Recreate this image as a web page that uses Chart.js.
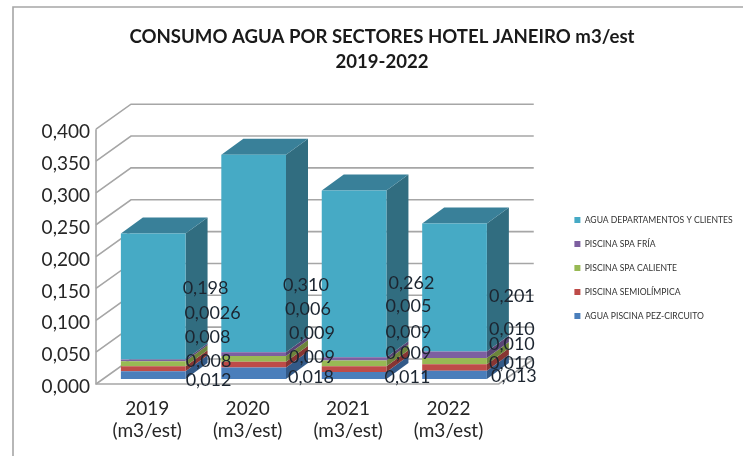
<!DOCTYPE html>
<html><head><meta charset="utf-8">
<style>html,body{margin:0;padding:0;background:#fff}#w{width:743px;height:456px}</style>
<script src="https://cdn.jsdelivr.net/npm/chart.js@4"></script></head>
<body><div id="w"><canvas id="c" width="743" height="456"></canvas></div>
<script>
const categories = ["2019 (m3/est)", "2020 (m3/est)", "2021 (m3/est)", "2022 (m3/est)"];
const seriesNames = ["AGUA PISCINA PEZ-CIRCUITO", "PISCINA SEMIOLÍMPICA", "PISCINA SPA CALIENTE", "PISCINA SPA FRÍA", "AGUA DEPARTAMENTOS Y CLIENTES"];
const piscinaPez = [0.012, 0.018, 0.011, 0.013];
const semiolimpica = [0.008, 0.009, 0.009, 0.010];
const spaCaliente = [0.008, 0.009, 0.009, 0.010];
const spaFria = [0.0026, 0.006, 0.005, 0.010];
const departamentos = [0.198, 0.310, 0.262, 0.201];
const labelTexts = [
  ["0,012", "0,018", "0,011", "0,013"],
  ["0,008", "0,009", "0,009", "0,010"],
  ["0,008", "0,009", "0,009", "0,010"],
  ["0,0026", "0,006", "0,005", "0,010"],
  ["0,198", "0,310", "0,262", "0,201"]
];
const yTicks = ["0,000", "0,050", "0,100", "0,150", "0,200", "0,250", "0,300", "0,350", "0,400"];

const front = ["#4a7ebb", "#be4b48", "#98b954", "#7d5fa0", "#46aac5"];
const side = ["#335a88", "#873533", "#6d853c", "#5a4474", "#316d80"];
const topC = "#398099";
const depth = {x: 22, y: -16};
const wall = {x: 35, y: -25, gx: 96, drop: 5};
// label nudges from each bar's right edge (dx) and its zero line (dy), series then category
const nudgeX = [[23,25,21,27],[23,26,22,25],[22,26,22,25],[27,22,22,25],[20,20,25,25]];
const nudgeY = [[1,-2,-2,-3],[-18,-22,-26,-16],[-42,-46,-47,-35],[-66,-70,-73,-50],[-91,-94,-96,-83]];

const scene = {
  id: "scene",
  afterLayout(ch) {
    const l = ch.legend, dx = 559 - l.left, dy = 268 - (l.top + l.bottom) / 2;
    l.left += dx; l.right = ch.width; l.width = l.right - l.left; l.top += dy; l.bottom += dy;
    const t = ch.titleBlock, tx = 382 - (t.left + t.right) / 2;
    t.left += tx; t.right += tx;
  },
  beforeDraw(ch) {
    const c = ch.ctx;
    c.save();
    c.strokeStyle = "#a6a6a6"; c.lineWidth = 1.6;
    c.beginPath(); c.moveTo(13, ch.height); c.lineTo(13, 7); c.lineTo(ch.width, 7); c.stroke();
    c.restore();
  },
  beforeDatasetsDraw(ch) {
    const c = ch.ctx, y = ch.scales.y, ar = ch.chartArea;
    const x0 = wall.gx, x1 = ar.right - 6;
    c.save();
    c.strokeStyle = "#a6a6a6"; c.lineWidth = 1.6;
    for (let i = 0; i < yTicks.length; i++) {
      const p = y.getPixelForValue(i * 0.05) + wall.drop;
      c.beginPath();
      c.moveTo(x0, p); c.lineTo(x0 + wall.x, p + wall.y);
      c.lineTo(x1 + wall.x, p + wall.y);
      c.stroke();
    }
    const pb = y.getPixelForValue(0) + wall.drop, pt = y.getPixelForValue(0.4) + wall.drop;
    c.beginPath(); c.moveTo(x0, pt); c.lineTo(x0, pb); c.lineTo(x1, pb); c.lineTo(x1 + wall.x, pb + wall.y); c.stroke();
    // bar depth faces
    ch.data.datasets.forEach((ds, si) => {
      ch.getDatasetMeta(si).data.forEach(b => {
        const r = b.x + b.width / 2, l = b.x - b.width / 2;
        c.fillStyle = side[si];
        c.beginPath(); c.moveTo(r, b.base); c.lineTo(r + depth.x, b.base + depth.y);
        c.lineTo(r + depth.x, b.y + depth.y); c.lineTo(r, b.y); c.closePath(); c.fill();
        if (si === ch.data.datasets.length - 1) {
          c.fillStyle = topC;
          c.beginPath(); c.moveTo(l, b.y); c.lineTo(l + depth.x, b.y + depth.y);
          c.lineTo(r + depth.x, b.y + depth.y); c.lineTo(r, b.y); c.closePath(); c.fill();
        }
      });
    });
    c.restore();
  },
  afterDatasetsDraw(ch) {
    const c = ch.ctx, zero = ch.scales.y.getPixelForValue(0);
    c.save();
    c.font = "18px Lato"; c.fillStyle = "#1c2530"; c.textAlign = "center"; c.textBaseline = "middle";
    ch.data.datasets.forEach((ds, si) => {
      ch.getDatasetMeta(si).data.forEach((b, i) => {
        c.fillText(labelTexts[si][i], b.x + b.width / 2 + nudgeX[si][i], zero + nudgeY[si][i]);
      });
    });
    c.restore();
  }
};
const values = [piscinaPez, semiolimpica, spaCaliente, spaFria, departamentos];
new Chart(document.getElementById("c"), {
  type: "bar",
  data: {
    labels: categories.map(s => s.split(" ")),
    datasets: seriesNames.map((n, i) => ({
      label: n, data: values[i], backgroundColor: front[i], borderWidth: 0, barPercentage: 0.644, categoryPercentage: 1
    }))
  },
  plugins: [scene],
  options: {
    responsive: false, animation: false,
    layout: {padding: {left: 0, top: 24, right: 70, bottom: 0}},
    scales: {
      x: {
        stacked: true, grid: {display: false}, border: {display: false},
        ticks: {font: {family: "Lato", size: 19}, color: "#262626", padding: 10, labelOffset: -6, maxRotation: 0, autoSkip: false},
        afterFit(s) { s.height = 77; }
      },
      y: {
        stacked: true, min: 0, max: 0.4, grid: {display: false}, border: {display: false},
        afterBuildTicks(s) { s.ticks = yTicks.map((t, i) => ({value: i * 0.05})); },
        ticks: {font: {family: "Lato", size: 19}, color: "#262626", padding: 5, labelOffset: 8,
          callback(v, i) { return yTicks[i]; }},
        afterFit(s) { s.width = 103; }
      }
    },
    plugins: {
      title: {display: true, text: ["CONSUMO AGUA POR SECTORES HOTEL JANEIRO m3/est", "2019-2022"],
        font: {family: "Lato", size: 18.6, weight: "bold", lineHeight: 1.35}, color: "#1a1a1a", padding: {top: 0, bottom: 50}},
      legend: {position: "right", reverse: true,
        labels: {font: {family: "Lato", size: 8.6}, color: "#333", boxWidth: 6, boxHeight: 6, padding: 15.4}},
      tooltip: {enabled: false}
    }
  }
});
</script></body></html>
